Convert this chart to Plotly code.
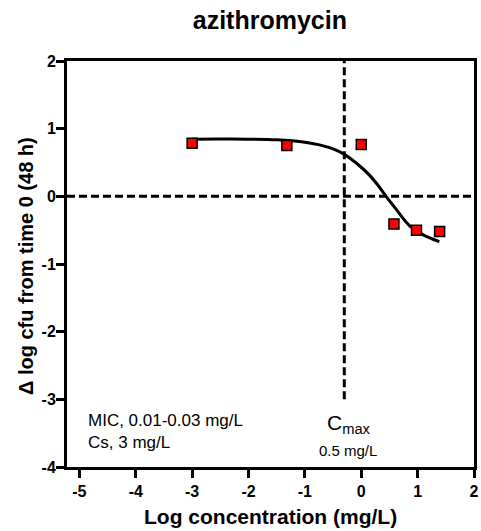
import plotly.graph_objects as go
import numpy as np

# Data points (log concentration, delta log cfu)
x_points = [-3.0, -1.32, 0.0, 0.58, 0.98, 1.39]
y_points = [0.785, 0.75, 0.766, -0.41, -0.50, -0.52]

# Fitted curve
x_curve = [-3.0, -2.5, -2.0, -1.5, -1.0, -0.74, -0.5, -0.3, -0.1, 0.15, 0.3, 0.44, 0.6, 0.85, 1.1, 1.385]
y_curve = [0.845, 0.846, 0.845, 0.835, 0.80, 0.76, 0.70, 0.62, 0.50, 0.31, 0.16, 0.0, -0.17, -0.43, -0.57, -0.67]

cmax_mgL = 0.5
cmax_line_y = [-3.0, 2.0]
x_range = [-5.22, 2]
y_range = [-4, 2]
x_ticks = [-5, -4, -3, -2, -1, 0, 1, 2]
y_ticks = [-4, -3, -2, -1, 0, 1, 2]

FONT = "Liberation Sans, Arial, sans-serif"

fig = go.Figure()
fig.add_trace(go.Scatter(x=x_curve, y=y_curve, mode="lines",
                         line=dict(color="black", width=3, shape="spline"),
                         hoverinfo="skip", showlegend=False))
fig.add_trace(go.Scatter(x=x_points, y=y_points, mode="markers",
                         marker=dict(symbol="square", size=10, color="#FF0000",
                                     line=dict(color="black", width=1.5)),
                         showlegend=False))

cx = float(np.log10(cmax_mgL))
dash = "8px,4px"
fig.add_shape(type="line", xref="x", yref="y", x0=cx, x1=cx,
              y0=cmax_line_y[0], y1=cmax_line_y[1],
              line=dict(color="black", width=3, dash=dash), layer="below")
fig.add_shape(type="line", xref="x", yref="y", x0=x_range[0], x1=x_range[1],
              y0=0, y1=0, line=dict(color="black", width=3, dash=dash), layer="below")

fig.add_annotation(x=-4.876, y=-3.475, xref="x", yref="y", xanchor="left", yanchor="middle",
                   text="MIC, 0.01-0.03 mg/L<br>Cs, 3 mg/L", showarrow=False, align="left",
                   font=dict(family=FONT, size=17, color="black"))
fig.add_annotation(x=-0.225, y=-3.36, xref="x", yref="y", xanchor="center", yanchor="middle",
                   text="C<sub>max</sub>", showarrow=False,
                   font=dict(family=FONT, size=21, color="black"))
fig.add_annotation(x=-0.24, y=-3.76, xref="x", yref="y", xanchor="center", yanchor="middle",
                   text="0.5 mg/L", showarrow=False,
                   font=dict(family=FONT, size=15, color="black"))

# axis titles
fig.add_annotation(x=0.499, y=-0.1207, xref="paper", yref="paper", xanchor="center", yanchor="middle",
                   text="<b>Log concentration (mg/L)</b>", showarrow=False,
                   font=dict(family=FONT, size=21, color="black"))
fig.add_annotation(x=-0.1007, y=0.495, xref="paper", yref="paper", xanchor="center", yanchor="middle",
                   text="<b>Δ log cfu from time 0 (48 h)</b>", showarrow=False, textangle=-90,
                   font=dict(family=FONT, size=20, color="black"))

axis_common = dict(showgrid=False, zeroline=False, showline=True, linecolor="black",
                   linewidth=3, mirror=True, ticks="outside", ticklen=8, tickwidth=3,
                   tickcolor="black", automargin=False,
                   tickfont=dict(family=FONT, size=16, color="black"))

fig.update_layout(
    width=481, height=531,
    margin=dict(l=67, r=7, t=61, b=64, autoexpand=False),
    paper_bgcolor="white", plot_bgcolor="white",
    title=dict(text="<b>azithromycin</b>", x=0.561, xanchor="center", y=0.962, yanchor="middle",
               font=dict(family=FONT, size=25, color="black")),
    xaxis=dict(range=x_range, tickvals=x_ticks, ticktext=[f"<b>{v}</b>" for v in x_ticks],
               **axis_common),
    yaxis=dict(range=y_range, tickvals=y_ticks, ticktext=[f"<b>{v}</b>" for v in y_ticks],
               ticklabelstandoff=-3, **axis_common),
)

fig.write_html("out.html", config={"displayModeBar": False},
               post_script="document.body.style.margin='0';document.body.style.overflow='hidden';")
